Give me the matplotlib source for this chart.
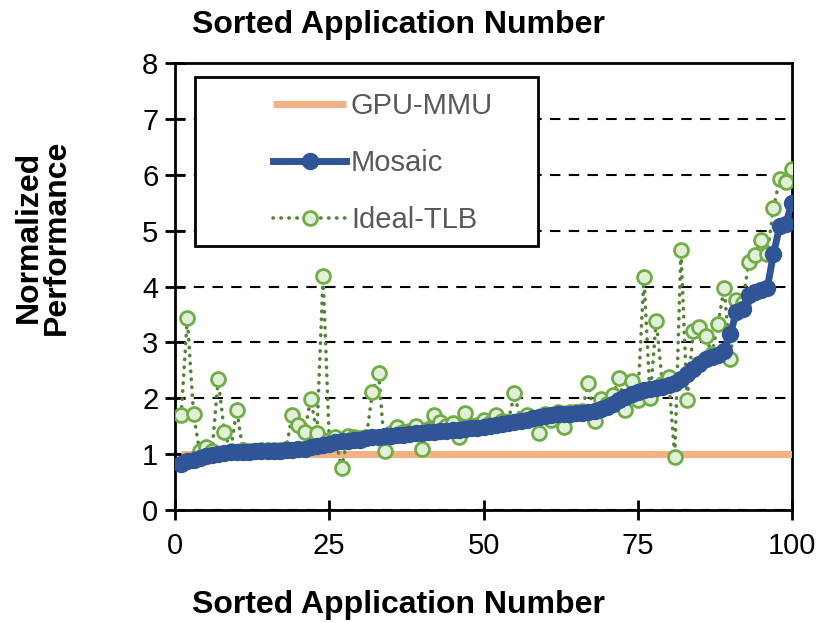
import matplotlib
matplotlib.use("Agg")
import matplotlib.pyplot as plt
from matplotlib.patches import Rectangle
import numpy as np

plt.rcParams['font.family'] = ['Liberation Sans', 'DejaVu Sans']

# sorted application number, 1..100
apps = list(range(1, 101))

mosaic = [0.83, 0.87, 0.90, 0.93, 0.96, 0.99, 1.01, 1.02, 1.03, 1.03,
          1.04, 1.04, 1.05, 1.05, 1.05, 1.06, 1.06, 1.07, 1.08, 1.09,
          1.10, 1.12, 1.14, 1.16, 1.19, 1.22, 1.23, 1.24, 1.25, 1.26,
          1.28, 1.30, 1.31, 1.32, 1.33, 1.34, 1.35, 1.36, 1.37, 1.38,
          1.39, 1.40, 1.41, 1.42, 1.43, 1.44, 1.45, 1.46, 1.47, 1.48,
          1.50, 1.52, 1.54, 1.56, 1.57, 1.59, 1.61, 1.64, 1.67, 1.69,
          1.70, 1.71, 1.71, 1.72, 1.73, 1.74, 1.76, 1.78, 1.81, 1.85,
          1.90, 1.96, 2.02, 2.08, 2.12, 2.14, 2.16, 2.18, 2.20, 2.23,
          2.28, 2.35, 2.43, 2.52, 2.62, 2.70, 2.74, 2.77, 2.85, 3.15,
          3.55, 3.60, 3.84, 3.90, 3.93, 3.98, 4.58, 5.08, 5.12, 5.50]

ideal_tlb = [1.70, 3.44, 1.71, 1.05, 1.13, 1.05, 2.34, 1.40, 1.05, 1.79,
             1.08, 1.06, 1.06, 1.07, 1.07, 1.08, 1.08, 1.10, 1.70, 1.52,
             1.40, 1.99, 1.38, 4.19, 1.25, 1.30, 0.75, 1.32, 1.30, 1.28,
             1.30, 2.11, 2.46, 1.06, 1.38, 1.48, 1.40, 1.42, 1.50, 1.10,
             1.45, 1.70, 1.58, 1.50, 1.55, 1.31, 1.74, 1.50, 1.52, 1.61,
             1.55, 1.70, 1.60, 1.58, 2.09, 1.62, 1.70, 1.65, 1.37, 1.72,
             1.61, 1.75, 1.48, 1.75, 1.76, 1.78, 2.28, 1.59, 1.98, 1.90,
             2.06, 2.37, 1.79, 2.30, 1.97, 4.17, 2.00, 3.39, 2.25, 2.38,
             0.95, 4.65, 1.96, 3.20, 3.28, 3.11, 2.80, 3.32, 3.97, 2.70,
             3.76, 3.70, 4.44, 4.56, 4.84, 4.59, 5.40, 5.93, 5.87, 6.11]

gpu_mmu = [1.0] * 100

fig = plt.figure(figsize=(8.17, 6.23), dpi=100)
ax = fig.add_axes([175/817, 1 - 510/623, 617/817, 447/623])

ax.plot(apps, gpu_mmu, color='#F4B183', lw=5, solid_capstyle='butt', zorder=3, label='GPU-MMU')
ax.plot(apps, mosaic, color='#2F5597', lw=5, marker='o', ms=11.5, zorder=5, label='Mosaic')
ax.plot(apps, ideal_tlb, color='#548235', lw=2.6, linestyle=(0, (0.1, 2.1)), dash_capstyle='round',
        marker='o', ms=10, mfc='#E2F0D9', mec='#70AD47', mew=2, zorder=4, label='Ideal-TLB')

ax.set_xlim(0, 100)
ax.set_ylim(0, 8)
ax.set_xticks([0, 25, 50, 75, 100])
ax.set_yticks(range(0, 9))
ax.yaxis.grid(True, color='black', linestyle=(0, (5, 4)), lw=1.5)
ax.set_axisbelow(True)
for s in ax.spines.values():
    s.set_linewidth(2)
ax.tick_params(direction='inout', length=14, width=2, labelsize=21)
ax.tick_params(axis='y', pad=5)
ax.tick_params(axis='x', pad=9)

# legend box drawn separately, legend itself frameless
ax.add_patch(Rectangle((0.032, 0.59), 0.556, 0.379, transform=ax.transAxes,
                       facecolor='white', edgecolor='black', lw=2, zorder=6))
leg = ax.legend(loc='upper left', bbox_to_anchor=(0.159, 0.935), frameon=False,
                fontsize=21, handlelength=2.5, handletextpad=0.17, labelspacing=1.0,
                borderpad=0, borderaxespad=0)
leg.set_zorder(7)
for t in leg.get_texts():
    t.set_color('#595959')

fig.text(398/817, 1 - 25/623, 'Sorted Application Number', ha='center', va='center',
         fontsize=23, fontweight='bold')
fig.text(398/817, 1 - 605/623, 'Sorted Application Number', ha='center', va='center',
         fontsize=23, fontweight='bold')
fig.text(43/817, 1 - 237/623, 'Normalized\nPerformance', ha='center', va='center',
         rotation=90, fontsize=23, fontweight='bold', linespacing=0.9)

fig.savefig('out.png', dpi=100)
